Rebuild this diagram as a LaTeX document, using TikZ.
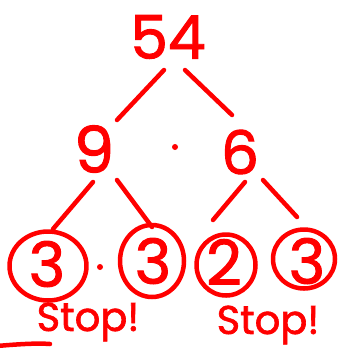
\documentclass[tikz,border=0pt]{standalone}
\usepackage{fontspec}
\setmainfont[FakeBold=1.6, AutoFakeBold=1.6]{Poppins}
\usetikzlibrary{shapes.geometric}

\tikzset{
  ink/.style={draw=red, line width=4.5pt, line cap=round, line join=round},
  numeral/.style={text=red, inner sep=0pt, font=\fontsize{#1}{#1}\selectfont\bfseries},
  ring/.style={ink, ellipse, inner sep=0pt, minimum width=#1},
  dotmark/.style={circle, fill=red, inner sep=0pt, minimum size=6pt},
  branch/.style={ink}
}

\begin{document}
\begin{tikzpicture}[x=1pt, y=-1pt]
  \fill[white] (0,0) rectangle (350,349);
  \useasboundingbox (0,0) rectangle (350,349);

  % top of the factor tree
  \node[numeral=60] (n54) at (168,37) {54};
  \node[numeral=64] (n9)  at (94,149) {9};
  \node[numeral=60] (n6)  at (240,152) {6};
  \node[dotmark] (m1) at (175,147) {};

  % circled prime leaves
  \node[ring=77pt, minimum height=69pt] (c1) at (48,266) {};
  \node[ring=64pt, minimum height=72pt] (c2) at (152,261) {};
  \node[ring=59pt, minimum height=61pt] (c3) at (226,265) {};
  \node[ring=62pt, minimum height=59pt] (c4) at (304,259) {};
  \node[numeral=62] (d1) at (47,264) {3};
  \node[numeral=62] (d2) at (153,261) {3};
  \node[numeral=62] (d3) at (224,262) {2};
  \node[numeral=62] (d4) at (307,261) {3};
  \node[dotmark] (m2) at (100,267) {};

  % branches
  \draw[branch] ([shift={(-4,33)}]n54.center) -- ([shift={(23,-29)}]n9.center);
  \draw[branch] ([shift={(17,33)}]n54.center) -- ([shift={(-8,-37)}]n6.center);
  \draw[branch] ([shift={(-1,33)}]n9.center) -- ([shift={(5,-37)}]c1.center);
  \draw[branch] ([shift={(23,31)}]n9.center) -- ([shift={(0,-34)}]c2.center);
  \draw[branch] ([shift={(5,30)}]n6.center) -- ([shift={(-13,-45)}]c3.center);
  \draw[branch] ([shift={(23,28)}]n6.center) -- ([shift={(-7,-42)}]c4.center);

  % stop labels
  \node[numeral=40] (s1) at (88,322) {Stop!};
  \node[numeral=40] (s2) at (268,325) {Stop!};

  % stray stroke at the lower left edge
  \draw[ink] (-3,346) .. controls (20,344) and (38,343) .. (50,344);
\end{tikzpicture}
\end{document}
